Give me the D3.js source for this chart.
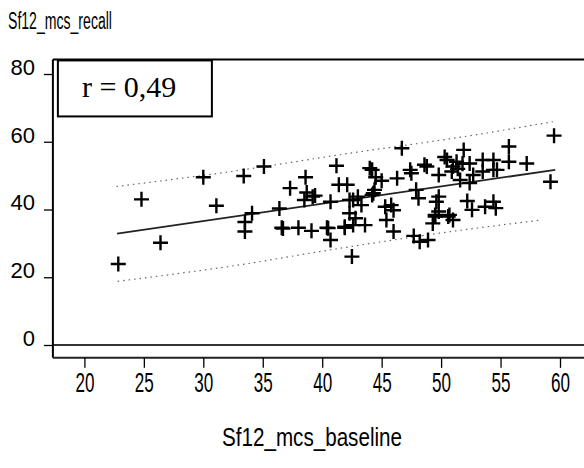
<!DOCTYPE html>
<html><head><meta charset="utf-8">
<script src="https://cdn.jsdelivr.net/npm/d3@7"></script>
<style>html,body{margin:0;padding:0;background:#fff;overflow:hidden}</style>
</head><body>
<script>
// ---- data ----
const baseline = [22.85,24.8,26.4,30.0,31.1,33.4,34.1,33.5,33.5,35.1,36.4,36.6,37.3,38.0,38.6,38.7,39.4,38.5,39.1,40.4,
  40.7,40.7,41.2,41.4,42.1,41.9,42.5,42.6,43.0,42.3,42.6,43.6,43.3,44.0,44.2,44.5,44.2,44.4,45.3,45.8,
  45.4,46.0,46.0,46.7,46.3,47.5,48.8,47.9,48.1,49.8,49.8,50.5,49.5,50.6,49.3,47.7,48.2,48.9,49.8,51.9,
  53.5,54.4,55.7,57.2,52.4,51.3,51.0,54.7,54.4,52.7,51.6,52.4,59.2,52.2,52.6,54.4,53.7,54.6,51.0,59.5,
  55.7,50.3,47.4,48.6,51.4,51.8,50.9,42.8,39.2,42.3,44.3,49.6,49.5,50.7,53.5,36.7,45.0,40.5,41.9];
const recall = [23.9,43.0,30.2,49.5,41.1,49.9,38.9,36.3,33.5,52.7,40.3,34.6,46.3,34.6,49.5,45.0,44.1,42.8,33.7,34.6,
  31.0,42.3,52.9,47.3,47.3,34.6,26.1,42.8,43.8,38.9,35.4,35.4,41.3,52.2,51.7,49.5,44.3,45.8,40.8,41.3,
  36.9,33.5,39.8,58.1,49.2,50.7,52.7,45.8,43.3,43.8,50.2,54.6,37.9,37.9,35.9,32.2,30.5,31.0,39.4,57.6,
  54.6,54.6,54.1,53.6,53.6,54.1,52.7,51.7,51.7,50.2,48.7,47.8,48.2,42.5,39.9,42.3,40.8,40.4,36.9,61.8,
  58.6,55.5,51.7,53.2,52.0,53.5,51.2,37.4,43.8,42.8,44.8,42.3,38.4,38.4,51.2,34.4,48.5,34.5,34.9];
const fitLine = [[22.75,32.9],[59.6,51.7]];
const upperBand = [[22.7,46.8],[32.3,51.2],[42.3,56.6],[51.9,61.5],[59.4,65.9]];
const lowerBand = [[22.8,18.8],[32.0,23.1],[42.3,29.0],[51.9,34.0],[58.5,36.9]];
const xTicks = [20,25,30,35,40,45,50,55,60];
const yTicks = [0,20,40,60,80];
const xTitle = "Sf12_mcs_baseline";
const yTitle = "Sf12_mcs_recall";
const rLabel = "r = 0,49";
const frameX = [17.35, 67];
const frameY = [-3.8, 84.3];

const W = 584, H = 468;
const svg = d3.select("body").append("svg").attr("width", W).attr("height", H);
const x = d3.scaleLinear().domain([20, 60]).range([84.4, 560]);
const y = d3.scaleLinear().domain([0, 80]).range([345, 74]);
const font = "'Liberation Sans', Arial, sans-serif";

// zero reference line
svg.append("line").attr("x1", x(frameX[0])).attr("x2", x(frameX[1]))
  .attr("y1", y(0)).attr("y2", y(0)).attr("stroke", "#333").attr("stroke-width", 2);

// frame: left, top, bottom
svg.append("line").attr("x1", x(frameX[0])).attr("x2", x(frameX[0]))
  .attr("y1", y(frameY[1])).attr("y2", y(frameY[0])).attr("stroke", "#000").attr("stroke-width", 2);
svg.append("line").attr("x1", x(frameX[0])).attr("x2", x(frameX[1]))
  .attr("y1", y(frameY[1])).attr("y2", y(frameY[1])).attr("stroke", "#000").attr("stroke-width", 2);
svg.append("line").attr("x1", x(frameX[0])).attr("x2", x(frameX[1]))
  .attr("y1", y(frameY[0])).attr("y2", y(frameY[0])).attr("stroke", "#222").attr("stroke-width", 2);

// x axis
const xAxis = svg.append("g").attr("transform", `translate(0,${y(frameY[0])})`)
  .call(d3.axisBottom(x).tickValues(xTicks).tickSize(10).tickPadding(5).tickFormat(d3.format("d")));
xAxis.select(".domain").remove();
xAxis.selectAll(".tick line").attr("stroke", "#000").attr("stroke-width", 1.3);
xAxis.selectAll(".tick text").attr("font-family", font).attr("font-size", 27).attr("fill", "#000")
  .attr("textLength", 19).attr("lengthAdjust", "spacingAndGlyphs");

// y axis
const yAxis = svg.append("g").attr("transform", `translate(${x(frameX[0])},0)`)
  .call(d3.axisLeft(y).tickValues(yTicks).tickSize(9).tickPadding(9).tickFormat(d3.format("d")));
yAxis.select(".domain").remove();
yAxis.selectAll(".tick line").attr("stroke", "#000").attr("stroke-width", 1.3);
yAxis.selectAll(".tick text").attr("font-family", font).attr("font-size", 22).attr("fill", "#000")
  .attr("dy", "0.02em");

// titles
svg.append("text").attr("x", 8).attr("y", 29).text(yTitle)
  .attr("font-family", font).attr("font-size", 23).attr("fill", "#000")
  .attr("textLength", 104).attr("lengthAdjust", "spacingAndGlyphs");
svg.append("text").attr("x", 222).attr("y", 446).text(xTitle)
  .attr("font-family", font).attr("font-size", 25).attr("fill", "#000")
  .attr("textLength", 180).attr("lengthAdjust", "spacingAndGlyphs");

// bands
const line = d3.line().x(d => x(d[0])).y(d => y(d[1])).curve(d3.curveMonotoneX);
[upperBand, lowerBand].forEach(b => {
  svg.append("path").attr("d", line(b)).attr("fill", "none")
    .attr("stroke", "#666").attr("stroke-width", 1.2).attr("stroke-dasharray", "1.5,4");
});
svg.append("path").attr("d", line(fitLine)).attr("fill", "none")
  .attr("stroke", "#222").attr("stroke-width", 1.8);

// points
const pts = baseline.map((b, i) => [b, recall[i]]);
svg.append("g").selectAll("path").data(pts).join("path")
  .attr("transform", d => `translate(${x(d[0])},${y(d[1])})`)
  .attr("d", "M-7.5,0H7.5M0,-7.5V7.5")
  .attr("stroke", "#000").attr("stroke-width", 2.4).attr("fill", "none");

// r box
const bx0 = x(frameX[0]) + 5, by0 = y(frameY[1]) + 1;
svg.append("rect").attr("x", bx0).attr("y", by0).attr("width", 154).attr("height", 56)
  .attr("fill", "#fff").attr("stroke", "#000").attr("stroke-width", 2);
svg.append("text").attr("x", bx0 + 24).attr("y", by0 + 37).text(rLabel)
  .attr("font-family", "'Liberation Serif', 'Times New Roman', serif").attr("font-size", 30).attr("fill", "#000");
</script>
</body></html>
